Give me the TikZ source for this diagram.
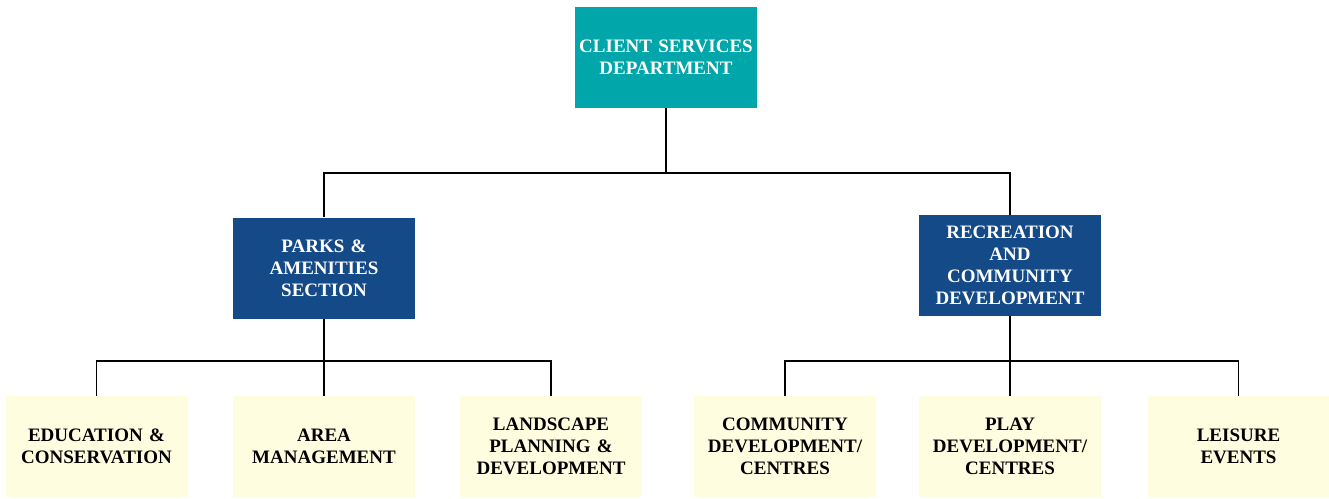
\documentclass[tikz,border=0pt]{standalone}
\usepackage{fontspec}
\setmainfont{Liberation Serif}
\usepackage{xcolor}
\usepackage{tikz}
\usetikzlibrary{positioning,calc}
\definecolor{deptteal}{RGB}{0,166,170}
\definecolor{sectblue}{RGB}{19,74,135}
\definecolor{unitcream}{RGB}{255,253,223}
\tikzset{
    orgbox/.style={minimum width=182pt, minimum height=101pt, inner sep=0pt,
        align=center, text width=178pt, font=\fontsize{19}{22}\selectfont\bfseries},
    deptbox/.style={orgbox, fill=deptteal, text=white},
    sectbox/.style={orgbox, fill=sectblue, text=white},
    unitbox/.style={orgbox, fill=unitcream, text=black},
    link/.style={line width=1.2pt, black}
}

\begin{document}
\begin{tikzpicture}[x=1pt, y=-1pt]
    \useasboundingbox (0,0) rectangle (1329,498);
    % top level
    \node[deptbox] (dept) at (666,57) {CLIENT SERVICES\\DEPARTMENT};
    % sections
    \node[sectbox] (parks) at (324,268) {PARKS \&\\AMENITIES\\SECTION};
    \node[sectbox] (recr) at (1010,265.5) {RECREATION\\AND\\COMMUNITY\\DEVELOPMENT};
    % units
    \node[unitbox] (edu) at (96.5,446.5) {EDUCATION \&\\CONSERVATION};
    \node[unitbox] (area) at (324,446.5) {AREA\\MANAGEMENT};
    \node[unitbox] (land) at (551,446.5) {LANDSCAPE\\PLANNING \&\\DEVELOPMENT};
    \node[unitbox] (comm) at (785,446.5) {COMMUNITY\\DEVELOPMENT/\\CENTRES};
    \node[unitbox] (play) at (1010,446.5) {PLAY\\DEVELOPMENT/\\CENTRES};
    \node[unitbox] (leis) at (1238.5,446.5) {LEISURE\\EVENTS};
    % connectors
    \coordinate (busTop) at (dept.south |- 0,173);
    \coordinate (busLeft) at (parks.south |- 0,361);
    \coordinate (busRight) at (recr.south |- 0,361);
    \draw[link] (dept.south) -- (busTop) -| (parks.north);
    \draw[link] (busTop) -| (recr.north);
    \draw[link] (parks.south) -- (area.north);
    \draw[link] (busLeft) -| (edu.north);
    \draw[link] (busLeft) -| (land.north);
    \draw[link] (recr.south) -- (play.north);
    \draw[link] (busRight) -| (comm.north);
    \draw[link] (busRight) -| (leis.north);
\end{tikzpicture}
\end{document}
